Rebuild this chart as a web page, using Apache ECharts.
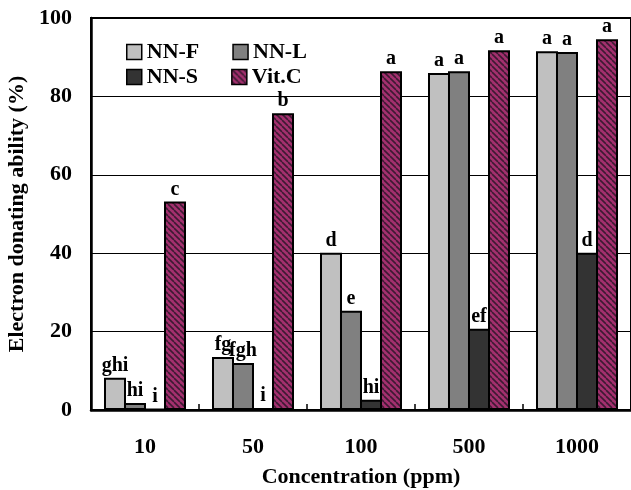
<!DOCTYPE html>
<html>
<head>
<meta charset="utf-8">
<script src="https://cdn.jsdelivr.net/npm/echarts@6/dist/echarts.min.js"></script>
<style>
  html, body { margin: 0; padding: 0; background: #fff; }
  #chart { width: 631px; height: 490px; }
</style>
</head>
<body>
<div id="chart"></div>
<script>
// Concentrations tested
const categories = ['10', '50', '100', '500', '1000'];

// Electron donating ability (%) per sample
const nnF  = [8.2, 13.5, 40.1, 86.0, 91.5];
const nnL  = [1.8, 12.0, 25.3, 86.4, 91.3];
const nnS  = [0.3, 0.5, 2.6, 20.7, 40.1];
const vitC = [53.2, 75.7, 86.4, 91.8, 94.6];

// Significance letters shown above each bar
const lettersF = ['ghi', 'fg', 'd', 'a', 'a'];
const lettersL = ['hi', 'fgh', 'e', 'a', 'a'];
const lettersS = ['i', 'i', 'hi', 'ef', 'd'];
const lettersV = ['c', 'b', 'a', 'a', 'a'];

const yTicks = [0, 20, 40, 60, 80, 100];

// Diagonal hatch fill for the Vit.C bars
function hatch() {
  const c = document.createElement('canvas');
  c.width = 6; c.height = 6;
  const g = c.getContext('2d');
  g.fillStyle = '#a3306e';
  g.fillRect(0, 0, 6, 6);
  g.strokeStyle = '#3d1a33';
  g.lineWidth = 1.6;
  for (let k = -6; k <= 12; k += 6) {
    g.beginPath();
    g.moveTo(k, 0);
    g.lineTo(k + 6, 6);
    g.stroke();
  }
  return { image: c, repeat: 'repeat' };
}

const serif = '"Liberation Serif", "DejaVu Serif", serif';

// Bars overlap by their border width so neighbours share one outline
function barSeries(name, data, letters, fill) {
  return {
    name: name,
    type: 'bar',
    data: data,
    barWidth: 22,
    barGap: '-9.09%',
    itemStyle: { color: fill, borderColor: '#000', borderWidth: 2 },
    label: {
      show: true,
      position: 'top',
      distance: 2,
      formatter: p => letters[p.dataIndex],
      fontFamily: serif,
      fontWeight: 'bold',
      fontSize: 20,
      color: '#000'
    }
  };
}

const chart = echarts.init(document.getElementById('chart'));
const pattern = hatch();

const legendText = { fontFamily: serif, fontWeight: 'bold', fontSize: 22, color: '#000' };
const legendBase = {
  icon: 'rect',
  itemWidth: 15,
  itemHeight: 15,
  itemGap: 33,
  textStyle: legendText,
  selectedMode: false,
  orient: 'horizontal',
  itemStyle: { borderColor: '#000', borderWidth: 1.5 }
};

chart.setOption({
  animation: false,
  backgroundColor: '#fff',
  grid: {
    left: 91, right: 0, top: 18, bottom: 80,
    outerBoundsMode: 'none',
    containLabel: false,
    show: true, borderColor: '#000', borderWidth: 2
  },
  legend: [
    Object.assign({}, legendBase, { data: ['NN-F', 'NN-L'], left: 121, top: 36 }),
    Object.assign({}, legendBase, { data: ['NN-S', 'Vit.C'], left: 121, top: 61 })
  ],
  xAxis: {
    type: 'category',
    data: categories,
    name: 'Concentration (ppm)',
    nameLocation: 'middle',
    nameGap: 56,
    nameTextStyle: { fontFamily: serif, fontWeight: 'bold', fontSize: 22, color: '#000' },
    axisLine: { lineStyle: { color: '#000', width: 2.5 } },
    axisTick: { show: true, inside: true, length: 6, lineStyle: { color: '#000', width: 1.5 } },
    axisLabel: { fontFamily: serif, fontWeight: 'bold', fontSize: 22, color: '#000', margin: 26 }
  },
  yAxis: {
    type: 'value',
    min: yTicks[0],
    max: yTicks[yTicks.length - 1],
    interval: 20,
    name: 'Electron donating ability (%)',
    nameLocation: 'middle',
    nameGap: 63,
    nameTextStyle: { fontFamily: serif, fontWeight: 'bold', fontSize: 22, color: '#000' },
    axisLine: { show: true, lineStyle: { color: '#000', width: 2.5 } },
    axisTick: { show: false },
    splitLine: { show: true, lineStyle: { color: '#000', width: 1 } },
    axisLabel: { fontFamily: serif, fontWeight: 'bold', fontSize: 22, color: '#000', margin: 19 }
  },
  series: [
    barSeries('NN-F', nnF, lettersF, '#c0c0c0'),
    barSeries('NN-L', nnL, lettersL, '#808080'),
    barSeries('NN-S', nnS, lettersS, '#333333'),
    barSeries('Vit.C', vitC, lettersV, pattern)
  ]
});
</script>
</body>
</html>
